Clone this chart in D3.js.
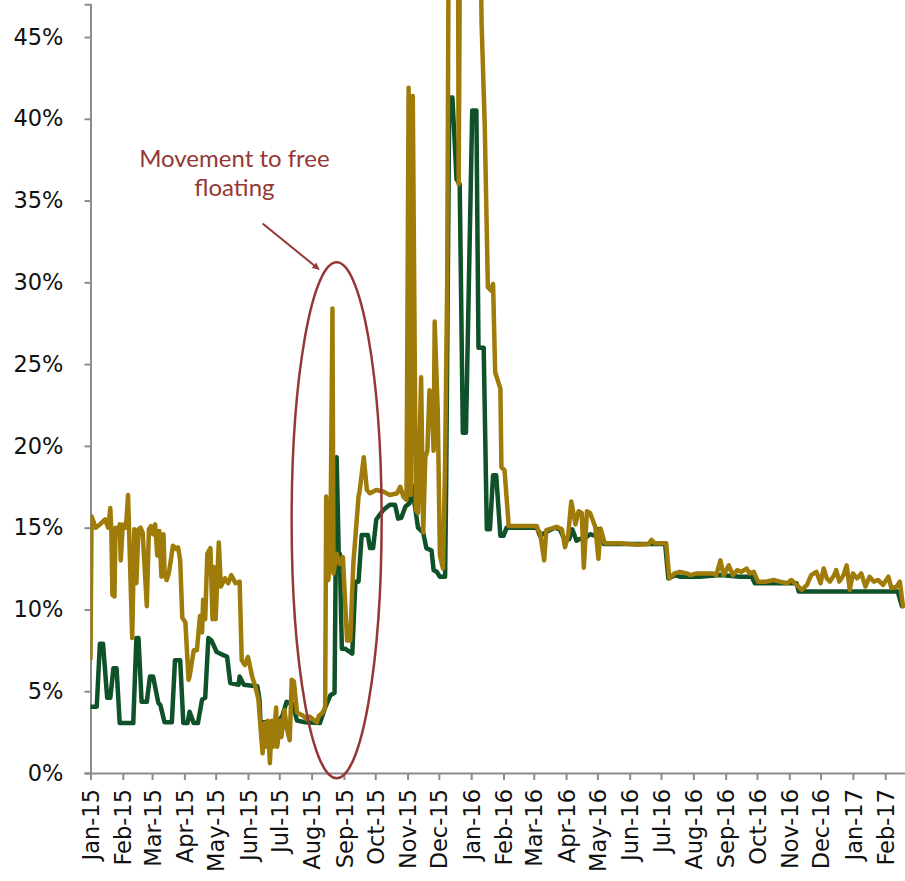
<!DOCTYPE html>
<html>
<head>
<meta charset="utf-8">
<script src="https://cdn.jsdelivr.net/npm/d3@7/dist/d3.min.js"></script>
<style>
  html, body { margin: 0; padding: 0; background: #fff; }
  svg { display: block; }
</style>
</head>
<body>
<svg id="chart" width="905" height="881"></svg>
<script>
// ---------------- DATA ----------------
const yTickValues = [0, 5, 10, 15, 20, 25, 30, 35, 40, 45];
const yTickLabels = ["0%", "5%", "10%", "15%", "20%", "25%", "30%", "35%", "40%", "45%"];
const xTickLabels = ["Jan-15","Feb-15","Mar-15","Apr-15","May-15","Jun-15","Jul-15","Aug-15","Sep-15","Oct-15","Nov-15","Dec-15",
  "Jan-16","Feb-16","Mar-16","Apr-16","May-16","Jun-16","Jul-16","Aug-16","Sep-16","Oct-16","Nov-16","Dec-16","Jan-17","Feb-17"];

// Gold series (dates, values in %)
const goldDates = ["2015-01-01","2015-01-02","2015-01-06","2015-01-10","2015-01-15","2015-01-18","2015-01-20","2015-01-21","2015-01-22","2015-01-24",
  "2015-01-25","2015-01-27","2015-01-29","2015-01-30","2015-02-01","2015-02-04","2015-02-06","2015-02-10","2015-02-12","2015-02-14",
  "2015-02-16","2015-02-18","2015-02-20","2015-02-24","2015-02-26","2015-02-28","2015-03-02","2015-03-04","2015-03-06","2015-03-08",
  "2015-03-10","2015-03-12","2015-03-13","2015-03-15","2015-03-17","2015-03-19","2015-03-21","2015-03-24","2015-03-26","2015-03-28",
  "2015-03-30","2015-04-02","2015-04-05","2015-04-06","2015-04-10","2015-04-13","2015-04-16","2015-04-18","2015-04-19","2015-04-21",
  "2015-04-23","2015-04-26","2015-04-28","2015-04-29","2015-05-01","2015-05-04","2015-05-06","2015-05-10","2015-05-13","2015-05-16",
  "2015-05-20","2015-05-24","2015-05-26","2015-05-29","2015-06-01","2015-06-05","2015-06-08","2015-06-11","2015-06-13","2015-06-15",
  "2015-06-17","2015-06-19","2015-06-20","2015-06-22","2015-06-24","2015-06-25","2015-06-28","2015-06-29","2015-07-02","2015-07-03",
  "2015-07-06","2015-07-08","2015-07-11","2015-07-13","2015-07-15","2015-07-18","2015-07-21","2015-07-24","2015-07-27","2015-07-30",
  "2015-08-02","2015-08-06","2015-08-08","2015-08-11","2015-08-14","2015-08-15","2015-08-17","2015-08-19","2015-08-21","2015-08-22",
  "2015-08-25","2015-08-28","2015-08-31","2015-09-04","2015-09-07","2015-09-10","2015-09-15","2015-09-16","2015-09-20","2015-09-23",
  "2015-09-26","2015-10-02","2015-10-09","2015-10-15","2015-10-22","2015-10-25","2015-10-28","2015-10-31","2015-11-02","2015-11-04",
  "2015-11-06","2015-11-09","2015-11-11","2015-11-14","2015-11-16","2015-11-18","2015-11-20","2015-11-22","2015-11-24","2015-11-26",
  "2015-11-27","2015-11-30","2015-12-02","2015-12-05","2015-12-07","2015-12-09","2015-12-11","2015-12-16","2015-12-19","2015-12-20",
  "2015-12-22","2015-12-31","2016-01-08","2016-01-11","2016-01-14","2016-01-17","2016-01-20","2016-01-22","2016-01-24","2016-01-29",
  "2016-01-30","2016-02-02","2016-02-06","2016-03-04","2016-03-05","2016-03-07","2016-03-11","2016-03-13","2016-03-23","2016-03-28",
  "2016-03-31","2016-04-03","2016-04-06","2016-04-10","2016-04-13","2016-04-16","2016-04-18","2016-04-21","2016-04-24","2016-04-29",
  "2016-05-02","2016-05-04","2016-05-08","2016-05-23","2016-06-08","2016-06-19","2016-06-22","2016-06-25","2016-07-06","2016-07-09",
  "2016-07-14","2016-07-19","2016-07-26","2016-07-29","2016-08-04","2016-08-14","2016-08-20","2016-08-23","2016-08-27","2016-08-30",
  "2016-09-04","2016-09-08","2016-09-12","2016-09-16","2016-09-21","2016-09-24","2016-09-28","2016-10-02","2016-10-10","2016-10-17",
  "2016-10-23","2016-10-30","2016-11-03","2016-11-08","2016-11-13","2016-11-18","2016-11-22","2016-11-27","2016-12-01","2016-12-04",
  "2016-12-07","2016-12-10","2016-12-14","2016-12-16","2016-12-19","2016-12-23","2016-12-26","2016-12-29","2017-01-01","2017-01-05",
  "2017-01-09","2017-01-13","2017-01-17","2017-01-21","2017-01-25","2017-01-30","2017-02-04","2017-02-07","2017-02-12","2017-02-15",
  "2017-02-18"];
const goldValues = [7.0,15.7,15.0,15.2,15.5,15.0,16.2,14.8,10.9,10.8,
  15.0,14.6,15.2,13.0,15.2,15.0,17.0,8.25,14.9,11.6,
  14.9,15.0,14.7,10.2,14.9,15.1,14.6,15.2,13.3,14.8,
  12.0,14.6,12.2,11.8,12.2,13.0,13.9,13.7,13.8,13.0,
  9.5,9.2,5.7,5.9,7.5,7.5,9.6,8.6,10.6,9.4,
  13.4,13.75,9.4,12.6,9.4,14.1,11.4,11.9,11.6,12.1,
  11.6,11.7,6.9,6.6,7.1,5.9,5.3,4.5,2.8,1.2,
  3.05,1.6,3.2,0.6,3.2,1.6,4.0,1.6,3.2,2.2,
  3.85,2.8,2.0,5.7,5.6,3.7,3.6,3.5,3.3,3.45,
  3.3,3.1,3.5,3.65,4.0,16.9,11.8,13.5,28.4,12.2,
  13.4,12.8,13.2,8.1,8.1,12.8,16.9,17.2,19.3,17.3,
  17.1,17.3,17.2,17.0,17.1,17.5,16.9,16.7,41.9,17.0,
  41.4,16.1,15.9,24.2,14.7,19.3,19.7,23.4,23.2,19.7,
  27.6,22.0,13.3,12.5,19.0,30.0,60.0,60.0,60.0,36.0,
  60.0,60.0,60.0,45.8,39.6,29.7,29.5,29.9,24.5,23.5,
  18.7,18.5,15.1,15.1,14.85,14.7,13.0,14.85,15.05,14.9,
  13.8,14.55,16.6,15.2,16.0,15.9,12.55,16.0,15.9,15.05,
  13.1,14.95,14.05,14.05,13.95,14.0,14.25,14.05,14.05,11.9,
  12.2,12.3,12.2,12.1,12.2,12.2,12.2,12.1,13.0,12.1,
  12.7,12.1,12.4,12.3,12.5,12.2,12.3,11.7,11.7,11.8,
  11.7,11.6,11.8,11.5,11.2,11.5,12.1,12.3,11.6,12.5,
  11.9,11.7,12.1,12.4,11.7,12.1,12.7,11.2,12.2,11.9,
  12.2,11.4,12.0,11.7,11.8,11.5,12.0,11.3,11.4,11.7,
  10.2];

// Green series (dates, values in %)
const greenDates = ["2015-01-01","2015-01-07","2015-01-10","2015-01-13","2015-01-17","2015-01-20","2015-01-23","2015-01-26","2015-01-29","2015-02-11",
  "2015-02-14","2015-02-16","2015-02-19","2015-02-24","2015-02-27","2015-03-02","2015-03-07","2015-03-09","2015-03-13","2015-03-20",
  "2015-03-23","2015-03-28","2015-03-31","2015-04-04","2015-04-06","2015-04-10","2015-04-14","2015-04-18","2015-04-21","2015-04-24",
  "2015-04-27","2015-05-02","2015-05-12","2015-05-15","2015-05-23","2015-05-24","2015-05-28","2015-06-10","2015-06-12","2015-06-13",
  "2015-06-22","2015-06-30","2015-07-04","2015-07-08","2015-07-14","2015-07-18","2015-07-26","2015-08-09","2015-08-14","2015-08-19",
  "2015-08-23","2015-08-25","2015-08-27","2015-08-28","2015-08-30","2015-09-02","2015-09-09","2015-09-12","2015-09-15","2015-09-18",
  "2015-09-24","2015-09-26","2015-09-29","2015-10-02","2015-10-09","2015-10-15","2015-10-20","2015-10-23","2015-10-26","2015-10-30",
  "2015-11-03","2015-11-05","2015-11-07","2015-11-11","2015-11-16","2015-11-19","2015-11-24","2015-11-26","2015-11-29","2015-12-02",
  "2015-12-07","2015-12-08","2015-12-11","2015-12-14","2015-12-18","2015-12-21","2015-12-24","2015-12-27","2016-01-02","2016-01-06",
  "2016-01-08","2016-01-13","2016-01-16","2016-01-19","2016-01-22","2016-01-25","2016-01-29","2016-02-01","2016-02-04","2016-03-04",
  "2016-03-07","2016-03-12","2016-03-21","2016-03-26","2016-03-31","2016-04-04","2016-04-07","2016-04-11","2016-04-14","2016-04-20",
  "2016-04-24","2016-04-29","2016-05-02","2016-05-05","2016-05-07","2016-07-05","2016-07-08","2016-07-15","2016-07-19","2016-08-07",
  "2016-08-27","2016-09-15","2016-09-26","2016-09-29","2016-11-08","2016-11-10","2017-02-13","2017-02-17"];
const greenValues = [4.05,4.05,7.9,7.9,4.6,4.6,6.4,6.4,3.05,3.05,
  8.25,8.25,4.35,4.35,5.9,5.9,4.3,4.15,3.1,3.1,
  6.9,6.9,3.05,3.05,3.75,3.05,3.05,4.5,4.6,8.25,
  8.1,7.4,7.1,5.5,5.4,5.9,5.4,5.3,4.5,3.1,
  3.1,3.1,3.5,4.35,4.2,3.2,3.1,3.05,4.0,4.75,
  4.9,19.3,13.4,13.4,7.6,7.6,7.3,11.7,11.7,14.55,
  14.55,13.75,13.75,15.5,16.1,16.4,16.4,15.55,15.6,16.3,
  16.5,17.6,16.8,15.0,14.7,13.75,13.6,12.4,12.3,12.0,
  12.0,17.5,41.3,41.3,36.3,36.0,20.8,20.8,40.5,40.5,
  26.0,26.0,14.9,14.9,18.2,18.2,14.5,14.5,15.0,15.0,
  14.5,14.7,15.0,14.9,14.2,14.3,14.9,14.2,14.3,14.4,
  14.6,14.5,14.9,14.6,14.0,14.0,11.9,12.1,12.0,12.0,
  12.1,12.0,12.0,11.6,11.6,11.1,11.1,10.2];

// Annotation text
const annotationLines = ["Movement to free", "floating"];

// ---------------- CHART ----------------
const parse = d3.timeParse("%Y-%m-%d");
const gold = goldDates.map((d, i) => ({date: parse(d), value: goldValues[i]}));
const green = greenDates.map((d, i) => ({date: parse(d), value: greenValues[i]}));

const svg = d3.select("#chart");
const left = 90.5, right = 904, bottom = 773;
const pxPerPct = (773 - 37) / 45;

const x = d3.scaleTime()
  .domain([parse("2015-01-01"), parse("2017-02-19")])
  .range([left, right]);
const y = d3.scaleLinear()
  .domain([0, 47])
  .range([bottom, bottom - 47 * pxPerPct]);

const axisColor = "#8c8c8c";
const fontFam = "'DejaVu Sans', Verdana, sans-serif";

// clip
svg.append("defs").append("clipPath").attr("id", "plotclip")
  .append("rect").attr("x", left).attr("y", 0).attr("width", 905 - left).attr("height", bottom);

// Y axis
const yAxis = d3.axisLeft(y)
  .tickValues(yTickValues)
  .tickFormat((d, i) => yTickLabels[i])
  .tickSizeOuter(0)
  .tickSize(6)
  .tickPadding(21);
const gy = svg.append("g").attr("transform", `translate(${left},0)`).call(yAxis);
gy.select(".domain").attr("stroke", axisColor).attr("stroke-width", 2);
gy.selectAll(".tick line").attr("stroke", axisColor).attr("stroke-width", 2);
gy.selectAll(".tick text")
  .attr("fill", "#111")
  .style("font-family", fontFam)
  .style("font-size", "22.5px");

// X axis
const monthTicks = d3.timeMonth.range(parse("2015-01-01"), parse("2017-02-02"));
const xAxis = d3.axisBottom(x)
  .tickValues(monthTicks)
  .tickFormat((d, i) => xTickLabels[i])
  .tickSizeOuter(0)
  .tickSize(7);
const gx = svg.append("g").attr("transform", `translate(0,${bottom})`).call(xAxis);
gx.select(".domain").attr("stroke", axisColor).attr("stroke-width", 2).attr("d", `M${left - 1},0.5H905`);
gx.selectAll(".tick line").attr("stroke", axisColor).attr("stroke-width", 2);
gx.selectAll(".tick text")
  .attr("fill", "#111")
  .style("font-family", fontFam)
  .style("font-size", "22.5px")
  .attr("text-anchor", "end")
  .attr("transform", "rotate(-90)")
  .attr("x", -16)
  .attr("y", 0)
  .attr("dy", "0.36em");

// Lines
const line = d3.line().x(d => x(d.date)).y(d => y(d.value));
const plot = svg.append("g").attr("clip-path", "url(#plotclip)");
plot.append("path").datum(green)
  .attr("d", line)
  .attr("fill", "none")
  .attr("stroke", "#0f5129")
  .attr("stroke-width", 4.5)
  .attr("stroke-linejoin", "round")
  .attr("stroke-linecap", "round");
plot.append("path").datum(gold)
  .attr("d", line)
  .attr("fill", "none")
  .attr("stroke", "#9f7b09")
  .attr("stroke-width", 4.5)
  .attr("stroke-linejoin", "round")
  .attr("stroke-linecap", "round");

// Annotation
const annColor = "#953735";
const ellipseCenter = {date: parse("2015-08-25"), value: 15.45};
svg.append("ellipse")
  .attr("cx", x(ellipseCenter.date))
  .attr("cy", y(ellipseCenter.value))
  .attr("rx", 45)
  .attr("ry", 258)
  .attr("fill", "none")
  .attr("stroke", annColor)
  .attr("stroke-width", 2.5);

svg.append("defs").append("marker")
  .attr("id", "arrow")
  .attr("viewBox", "0 0 10 10")
  .attr("refX", 9).attr("refY", 5)
  .attr("markerWidth", 7).attr("markerHeight", 7)
  .attr("markerUnits", "userSpaceOnUse")
  .attr("orient", "auto")
  .append("path").attr("d", "M0,0L10,5L0,10z").attr("fill", annColor);

const arrowFrom = {date: parse("2015-06-15"), value: 33.6};
const arrowTo = {date: parse("2015-08-08"), value: 30.8};
svg.append("line")
  .attr("x1", x(arrowFrom.date)).attr("y1", y(arrowFrom.value))
  .attr("x2", x(arrowTo.date)).attr("y2", y(arrowTo.value))
  .attr("stroke", annColor)
  .attr("stroke-width", 2)
  .attr("marker-end", "url(#arrow)");

const textX = x(parse("2015-05-19"));
svg.append("text")
  .attr("x", textX).attr("y", 167)
  .attr("text-anchor", "middle")
  .attr("fill", annColor)
  .style("font-family", "Lato, 'Open Sans', sans-serif")
  .style("font-size", "24px")
  .text(annotationLines[0]);
svg.append("text")
  .attr("x", textX).attr("y", 196)
  .attr("text-anchor", "middle")
  .attr("fill", annColor)
  .style("font-family", "Lato, 'Open Sans', sans-serif")
  .style("font-size", "24px")
  .text(annotationLines[1]);
</script>
</body>
</html>
